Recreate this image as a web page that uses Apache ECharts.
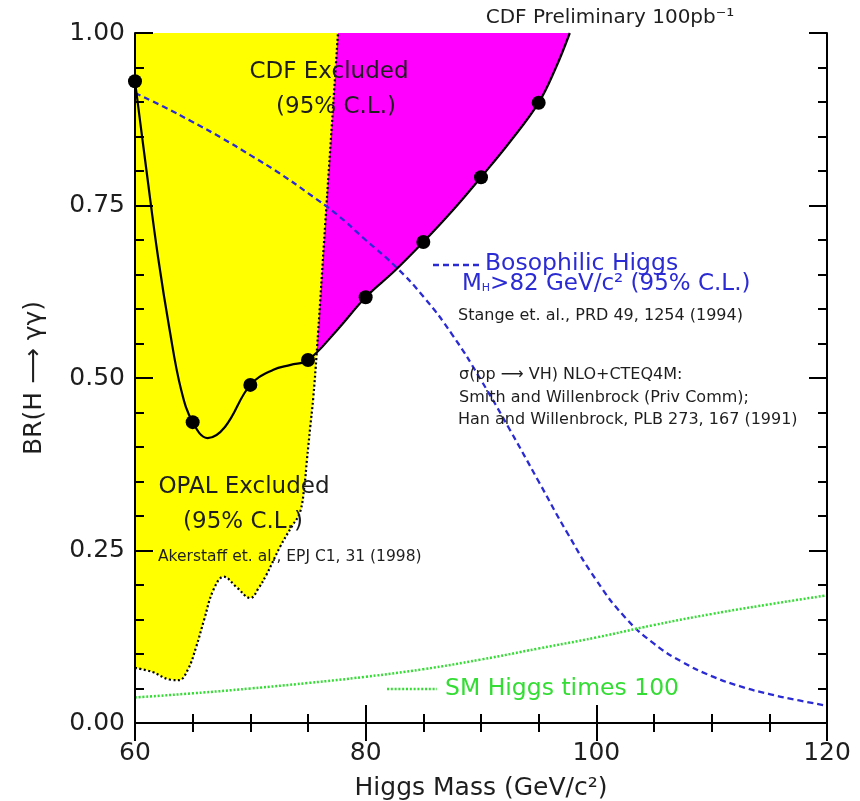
<!DOCTYPE html>
<html>
<head>
<meta charset="utf-8">
<title>BR(H → γγ) limits</title>
<script src="https://cdn.jsdelivr.net/npm/echarts@6/dist/echarts.min.js"></script>
<style>
  html, body { margin: 0; padding: 0; background: #fff; }
  #chart { width: 860px; height: 801px; }
</style>
</head>
<body>
<div id="chart"></div>
<script>
// CDF 95% C.L. upper limit on BR(H -> gamma gamma), smooth curve
const cdfMass  = [60, 61, 62, 63, 64, 65, 66.3, 67.8, 70, 72, 73.5, 75, 77.5, 80, 82.5, 85, 87.5, 90, 92.5, 95, 96.5, 97.7];
const cdfLimit = [0.930, 0.800, 0.675, 0.570, 0.483, 0.436, 0.413, 0.429, 0.490, 0.512, 0.519, 0.526, 0.569, 0.617, 0.655, 0.697, 0.742, 0.791, 0.842, 0.899, 0.950, 1.000];

// Mass points where the CDF limit was computed
const pointMass  = [60, 65, 70, 75, 80, 85, 90, 95];
const pointLimit = [0.930, 0.436, 0.490, 0.526, 0.617, 0.697, 0.791, 0.899];

// OPAL excluded region: lower/right boundary
const opalMass  = [60, 61.5, 63.0, 63.8, 64.6, 65.3, 66.0, 66.8, 67.7, 68.8, 70.0, 70.7, 71.4, 72.6, 73.6, 74.3, 74.7, 74.9, 75.2, 75.45, 75.75, 76.5, 77.2, 77.6];
const opalLimit = [0.080, 0.074, 0.063, 0.062, 0.078, 0.110, 0.150, 0.193, 0.212, 0.197, 0.181, 0.195, 0.215, 0.256, 0.285, 0.305, 0.345, 0.380, 0.430, 0.470, 0.535, 0.725, 0.900, 1.000];

// Bosophilic Higgs expectation
const bosoMass = [60, 62.5, 65, 67.5, 70, 72.5, 75, 77.5, 80, 82.5, 85, 87.5, 90, 92.5, 95, 97.5, 100, 102.5, 105, 107.5, 110, 112.5, 115, 117.5, 120];
const bosoBR   = [0.913, 0.893, 0.871, 0.848, 0.823, 0.797, 0.768, 0.737, 0.700, 0.663, 0.618, 0.563, 0.497, 0.425, 0.350, 0.275, 0.207, 0.153, 0.115, 0.088, 0.068, 0.053, 0.042, 0.033, 0.025];

// Standard Model Higgs, scaled by 100
const smMass = [60, 65, 70, 75, 80, 85, 90, 95, 100, 105, 110, 115, 120];
const smBR   = [0.037, 0.043, 0.050, 0.058, 0.067, 0.078, 0.092, 0.108, 0.124, 0.142, 0.158, 0.172, 0.185];

// Axis ticks
const xTicks = [60, 80, 100, 120];
const yTicks = [0.00, 0.25, 0.50, 0.75, 1.00];

const FONT = '"DejaVu Sans", "Liberation Sans", sans-serif';
const INK = '#1e1e1e';
const BLUE = '#2b2bd4';
const GREEN = '#33dd33';

const pairs = (xs, ys) => xs.map((x, i) => [x, ys[i]]);

const chart = echarts.init(document.getElementById('chart'), null, { renderer: 'canvas' });

const tickCommon = {
  axisLine: { show: true, lineStyle: { color: '#000', width: 2 } },
  axisTick: { show: true, inside: true, length: 18, lineStyle: { color: '#000', width: 2 } },
  minorTick: { show: true, length: 9, lineStyle: { color: '#000', width: 2 } },
  splitLine: { show: false },
  minorSplitLine: { show: false },
  z: 10
};

const xBase = {
  type: 'value',
  min: xTicks[0],
  max: xTicks[xTicks.length - 1],
  interval: xTicks[1] - xTicks[0],
  ...tickCommon,
  minorTick: { ...tickCommon.minorTick, splitNumber: 4 }
};
const yBase = {
  type: 'value',
  min: yTicks[0],
  max: yTicks[yTicks.length - 1],
  interval: yTicks[1] - yTicks[0],
  ...tickCommon,
  minorTick: { ...tickCommon.minorTick, splitNumber: 5 }
};

const labelText = (text, x, y, size, color, extra) => ({
  type: 'text',
  x, y,
  z: 20,
  style: Object.assign({
    text,
    font: size + 'px ' + FONT,
    fill: color,
    textAlign: 'left',
    textVerticalAlign: 'middle'
  }, extra || {})
});

const option = {
  animation: false,
  backgroundColor: '#fff',
  grid: { left: 135, right: 33, top: 33, bottom: 78, containLabel: false },
  xAxis: [
    Object.assign({}, xBase, {
      position: 'bottom',
      axisLabel: { show: true, margin: 18, color: INK, fontSize: 25, fontFamily: FONT,
                   formatter: v => String(v) }
    }),
    Object.assign({}, xBase, { position: 'top', axisLabel: { show: false } })
  ],
  yAxis: [
    Object.assign({}, yBase, {
      position: 'left',
      axisLabel: { show: true, margin: 10, color: INK, fontSize: 25, fontFamily: FONT,
                   formatter: v => v.toFixed(2) }
    }),
    Object.assign({}, yBase, { position: 'right', axisLabel: { show: false } })
  ],
  series: [
    {
      // CDF excluded band (above the CDF limit)
      name: 'CDF excluded',
      type: 'line',
      data: pairs(cdfMass, cdfLimit),
      smooth: 0.4,
      showSymbol: false,
      lineStyle: { width: 0, opacity: 0 },
      areaStyle: { color: '#ff00ff', opacity: 1, origin: 'end' },
      z: 1,
      silent: true
    },
    {
      // OPAL excluded region with its dotted boundary
      name: 'OPAL excluded',
      type: 'line',
      data: pairs(opalMass, opalLimit),
      smooth: 0.4,
      showSymbol: false,
      lineStyle: { color: '#000', width: 2.2, type: [2, 2.5] },
      areaStyle: { color: '#ffff00', opacity: 1, origin: 'end' },
      z: 2,
      silent: true
    },
    {
      name: 'Bosophilic Higgs',
      type: 'line',
      data: pairs(bosoMass, bosoBR),
      smooth: 0.5,
      showSymbol: false,
      lineStyle: { color: BLUE, width: 2.3, type: [6, 4] },
      z: 3
    },
    {
      name: 'SM Higgs times 100',
      type: 'line',
      data: pairs(smMass, smBR),
      smooth: 0.5,
      showSymbol: false,
      lineStyle: { color: GREEN, width: 2.5, type: [2, 1.8] },
      z: 3
    },
    {
      name: 'CDF limit',
      type: 'line',
      data: pairs(cdfMass, cdfLimit),
      smooth: 0.4,
      showSymbol: false,
      lineStyle: { color: '#000', width: 2.2 },
      z: 4
    },
    {
      name: 'CDF points',
      type: 'scatter',
      data: pairs(pointMass, pointLimit),
      symbol: 'circle',
      symbolSize: 14,
      itemStyle: { color: '#000', opacity: 1 },
      z: 5
    }
  ],
  graphic: [
    // axis titles
    labelText('Higgs Mass (GeV/c²)', 481, 788, 25, INK, { textAlign: 'center' }),
    {
      type: 'text', x: 34, y: 378, rotation: Math.PI / 2, z: 20,
      style: { text: 'BR(H ⟶ γγ)', font: '25px ' + FONT, fill: INK,
               textAlign: 'center', textVerticalAlign: 'middle' }
    },
    // header
    labelText('CDF Preliminary 100pb⁻¹', 610, 18, 20, INK, { textAlign: 'center' }),
    // region labels
    labelText('CDF Excluded', 329, 72, 23, INK, { textAlign: 'center' }),
    labelText('(95% C.L.)', 336, 107, 23, INK, { textAlign: 'center' }),
    labelText('OPAL Excluded', 244, 487, 23, INK, { textAlign: 'center' }),
    labelText('(95% C.L.)', 243, 522, 23, INK, { textAlign: 'center' }),
    labelText('Akerstaff et. al., EPJ C1, 31 (1998)', 158, 557, 15.5, INK),
    // Bosophilic legend entry
    { type: 'line', z: 20, shape: { x1: 433, y1: 265, x2: 479, y2: 265 },
      style: { stroke: BLUE, lineWidth: 2.3, lineDash: [6, 4] } },
    labelText('Bosophilic Higgs', 485, 264, 23.5, BLUE),
    {
      type: 'text', x: 462, y: 284, z: 20,
      style: {
        text: 'M{sub|H}>82 GeV/c² (95% C.L.)',
        font: '23px ' + FONT, fill: BLUE,
        textAlign: 'left', textVerticalAlign: 'middle',
        rich: { sub: { fontSize: 11, fontFamily: FONT, fill: BLUE, verticalAlign: 'bottom', padding: [0, 0, 2, 0] } }
      }
    },
    labelText('Stange et. al., PRD 49, 1254 (1994)', 458, 316, 16, INK),
    labelText('σ(pp ⟶ VH) NLO+CTEQ4M:', 459, 375, 16, INK),
    labelText('Smith and Willenbrock (Priv Comm);', 459, 398, 16, INK),
    labelText('Han and Willenbrock, PLB 273, 167 (1991)', 458, 420, 16, INK),
    // SM legend entry
    { type: 'line', z: 20, shape: { x1: 387, y1: 689, x2: 437, y2: 689 },
      style: { stroke: GREEN, lineWidth: 2.5, lineDash: [2, 1.8] } },
    labelText('SM Higgs times 100', 445, 689, 23.5, GREEN)
  ]
};

chart.setOption(option);
</script>
</body>
</html>
